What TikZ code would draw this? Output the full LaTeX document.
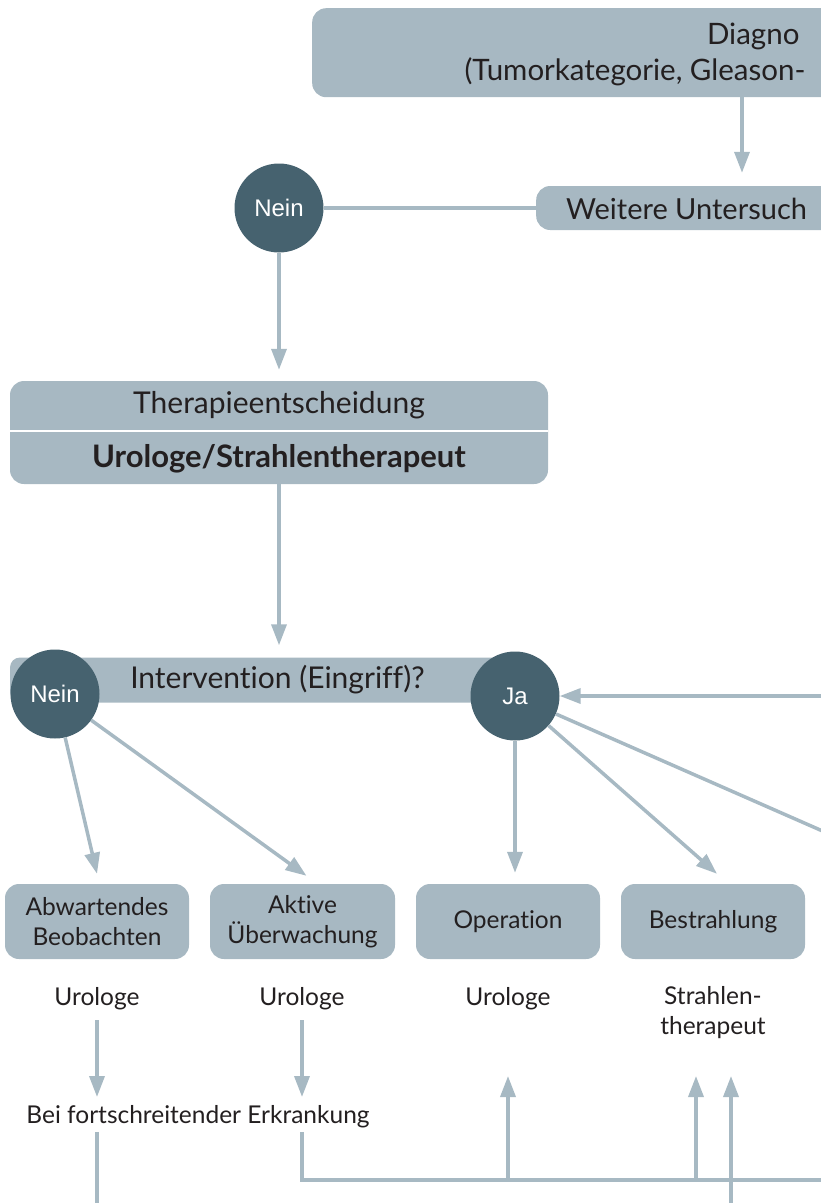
\documentclass[tikz,border=0pt]{standalone}
\usepackage{fontspec}
\setmainfont{Lato}[Ligatures=NoCommon]
\newfontfamily\ringfont{Liberation Sans}
\usetikzlibrary{arrows.meta}
\definecolor{boxgray}{RGB}{167,184,194}
\definecolor{ringblue}{RGB}{70,98,111}
\definecolor{linegray}{RGB}{167,185,195}
\definecolor{ink}{RGB}{35,31,32}
\begin{document}
\begin{tikzpicture}[x=1pt, y=-1pt,
        box/.style={fill=boxgray, rounded corners=14pt, inner sep=0pt, text=ink},
        ring/.style={circle, fill=ringblue, minimum size=89pt, inner sep=0pt, text=white, font=\ringfont\fontsize{24}{28}\selectfont},
        big/.style={text=ink, font=\fontsize{30}{36}\selectfont},
        small/.style={text=ink, align=center, font=\fontsize{24.5}{30}\selectfont},
        flow/.style={draw=linegray, line width=3.5pt, -{Triangle[width=15pt, length=21pt]}},
        plain/.style={draw=linegray, line width=3.5pt}]
        \useasboundingbox (0,0) rectangle (821,1203);
        % top row
        \node[box, minimum width=600pt, minimum height=89pt, anchor=north west] at(312, 8) (diag) {};
        \node[big, anchor=base east, font=\fontsize{29.5}{34}\selectfont] at(803, 44) (diag1) {Diagno};
        \node[big, anchor=base east, font=\fontsize{29.5}{34}\selectfont] at(809, 80) (diag2) {(Tumorkategorie, Gleason-};
        \node[box, minimum width=400pt, minimum height=44pt, anchor=west] at(536, 208) (weit) {};
        \node[big, anchor=west, inner sep=0pt, font=\fontsize{29}{34}\selectfont] at(566, 209) (weit1) {Weitere Untersuch};
        \node[ring] at(279, 208) (nein1) {Nein};
        \coordinate (dx) at (742, 0);
        \draw[flow] (diag.south -| dx) -- ([yshift=13pt]weit.north -| dx);
        \draw[plain] (nein1) -- (weit);
        % Therapieentscheidung
        \node[box, minimum width=538pt, minimum height=103pt] at(279, 432.5) (ther) {};
        \draw[white, line width=2.5pt] (ther.west |- 0, 431) -- (ther.east |- 0, 431);
        \node[big] at(279, 405) (ther1) {Therapieentscheidung};
        \node[big, font=\bfseries\fontsize{31}{36}\selectfont] at(279, 459) (ther2) {Urologe/Strahlentherapeut};
        \draw[flow, shorten >=11pt] (nein1) -- (nein1 |- ther.north);
        % Intervention
        \node[box, big, rounded corners=10pt, minimum width=535pt, minimum height=45pt] at(277.5, 680) (intv) {Intervention (Eingriff)?};
        \draw[flow, shorten >=12pt] (ther) -- (ther.south |- intv.north);
        \node[ring] at(55, 694) (nein2) {Nein};
        \node[ring] at(515, 696) (ja) {Ja};
        \coordinate (inR) at (840, 696);
        \draw[flow] (inR) -- (ja);
        % Behandlungen
        \node[box, small, minimum width=184pt, minimum height=75pt] at(97, 921.5) (abw) {Abwartendes\\Beobachten};
        \node[box, small, minimum width=185pt, minimum height=75pt] at(302.5, 921.5) (akt) {Aktive\\Überwachung};
        \node[box, small, minimum width=184pt, minimum height=75pt] at(508, 921.5) (op) {Operation};
        \node[box, small, minimum width=184pt, minimum height=75pt] at(713, 921.5) (bes) {Bestrahlung};
        \coordinate (outR) at (900, 865);
        \draw[flow] (nein2) -- ([yshift=10pt]abw.north);
        \draw[flow] (nein2) -- ([xshift=4pt, yshift=8pt]akt.north);
        \draw[flow, shorten >=11pt] (ja) -- (ja |- op.north);
        \draw[flow] (ja) -- ([xshift=4pt, yshift=10pt]bes.north);
        \draw[plain] (ja) -- (outR);
        % Fachrichtung
        \node[small] at(97, 999) (uro1) {Urologe};
        \node[small] at(302, 999) (uro2) {Urologe};
        \node[small] at(508, 999) (uro3) {Urologe};
        \node[small] at(713, 1013) (strt) {Strahlen-\\therapeut};
        \node[small] at(198, 1117) (prog) {Bei fortschreitender Erkrankung};
        \coordinate (low1) at (97, 1210);
        \coordinate (bend) at (302, 1180);
        \coordinate (lowR) at (900, 1180);
        \coordinate (low2) at (731, 1210);
        \coordinate (tip) at (0, 1076);
        \coordinate (upA) at (508, 1180);
        \coordinate (upB) at (696, 1180);
        \draw[flow] (uro1 |- 0, 1020) -- (uro1 |- 0, 1097);
        \draw[flow] (uro2 |- 0, 1020) -- (uro2 |- 0, 1097);
        \draw[plain] (prog.south -| uro1) -- (low1);
        \draw[plain] (prog.south -| uro2) -- (bend) -- (lowR);
        \draw[flow] (upA) -- (upA |- tip);
        \draw[flow] (upB) -- (upB |- tip);
        \draw[flow] (low2) -- (low2 |- tip);
    \end{tikzpicture}
\end{document}
